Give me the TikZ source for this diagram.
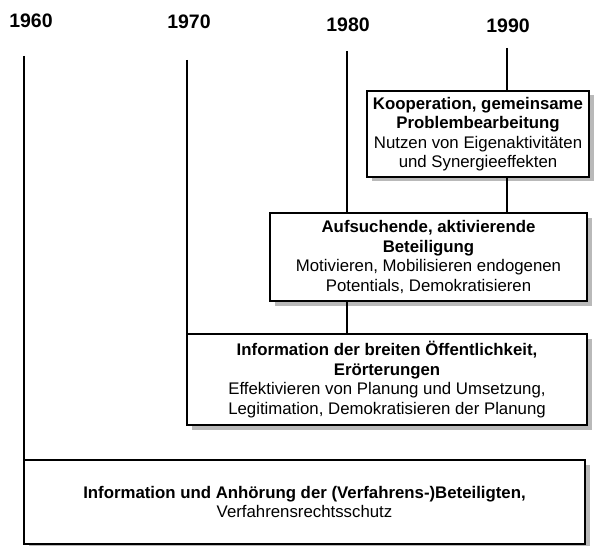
\documentclass[tikz,border=0pt]{standalone}
\usepackage{fontspec}
\setmainfont{Liberation Sans}
\usetikzlibrary{shadows}
\begin{document}
\begin{tikzpicture}[x=1pt,y=-1pt,
  year/.style={font=\fontsize{19.5}{22}\selectfont\bfseries},
  phase/.style={draw, line width=1.5pt, fill=white, align=center, inner sep=0pt,
    font=\fontsize{16.8}{19.4}\selectfont,
    drop shadow={fill=gray!55, opacity=1, shadow xshift=4.5pt, shadow yshift=-4.5pt}},
  tl/.style={draw, line width=1.1pt}]
\useasboundingbox (0,0) rectangle (609,545);
\node[year] (y60) at (31,21) {1960};
\node[year] (y70) at (189,22) {1970};
\node[year] (y80) at (348,25) {1980};
\node[year] (y90) at (508,26) {1990};
\coordinate (t60) at (24,56);
\coordinate (t70) at (187,60);
\coordinate (t80) at (347,51);
\coordinate (t90) at (507,48);
\node[phase, minimum width=222pt, minimum height=86pt] (koop) at (478,134) {\textbf{Kooperation, gemeinsame}\\\textbf{Problembearbeitung}\\Nutzen von Eigenaktivitäten\\und Synergieeffekten};
\node[phase, minimum width=317pt, minimum height=88pt] (aufs) at (428.5,257) {\textbf{Aufsuchende, aktivierende}\\\textbf{Beteiligung}\\Motivieren, Mobilisieren endogenen\\Potentials, Demokratisieren};
\node[phase, minimum width=400pt, minimum height=91pt] (oeff) at (387,379.5) {\textbf{Information der breiten Öffentlichkeit,}\\\textbf{Erörterungen}\\Effektivieren von Planung und Umsetzung,\\Legitimation, Demokratisieren der Planung};
\node[phase, minimum width=561pt, minimum height=84pt, font=\fontsize{16.8}{19}\selectfont] (anh) at (304.5,502) {\textbf{Information und Anhörung der (Verfahrens-)Beteiligten,}\\Verfahrensrechtsschutz};
\path[tl] (t60) -- (t60 |- anh.north);
\path[tl] (t70) -- (t70 |- oeff.north);
\path[tl] (t80) -- (t80 |- aufs.north);
\path[tl] (t80 |- aufs.south) -- (t80 |- oeff.north);
\path[tl] (t90) -- (t90 |- koop.north);
\path[tl] (t90 |- koop.south) -- (t90 |- aufs.north);
\end{tikzpicture}
\end{document}
